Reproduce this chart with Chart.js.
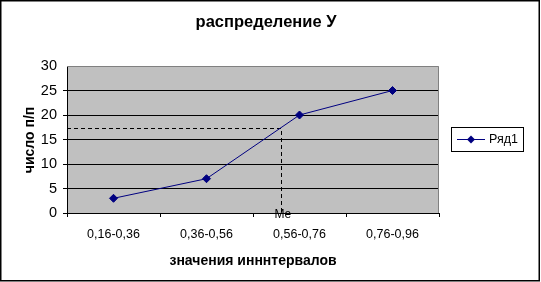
<!DOCTYPE html>
<html><head><meta charset="utf-8">
<script src="https://cdn.jsdelivr.net/npm/chart.js@4"></script>
<style>html,body{margin:0;padding:0;background:#fff;}canvas{display:block;}</style>
</head><body>
<canvas id="c" width="541" height="282"></canvas>
<script>
const categories = ['0,16-0,36', '0,36-0,56', '0,56-0,76', '0,76-0,96'];
const seriesName = 'Ряд1';
const values = [3, 7, 20, 25];
const yTicks = [0, 5, 10, 15, 20, 25, 30];
const medianCat = [1.8];
const medianVal = [17.3];
const medianLabel = 'Me';
const titleText = 'распределение У';
const xTitle = 'значения инннтервалов';
const yTitle = 'число п/п';

const FONT = '"Liberation Sans", Arial, sans-serif';
const NAVY = '#000080';

const decor = {
  id: 'decor',
  beforeDraw(chart) {
    const ctx = chart.ctx, a = chart.chartArea;
    ctx.save();
    ctx.fillStyle = '#fff';
    ctx.fillRect(0, 0, chart.width, chart.height);
    ctx.fillStyle = '#C0C0C0';
    ctx.fillRect(a.left, a.top, a.right - a.left, a.bottom - a.top);
    ctx.restore();
  },
  beforeDatasetsDraw(chart) {
    const ctx = chart.ctx, a = chart.chartArea;
    const xs = chart.scales.x, ys = chart.scales.y;
    ctx.save();
    ctx.strokeStyle = '#808080';
    ctx.lineWidth = 1;
    ctx.beginPath();
    ctx.moveTo(a.left, a.top + 0.5);
    ctx.lineTo(a.right - 0.5, a.top + 0.5);
    ctx.lineTo(a.right - 0.5, a.bottom);
    ctx.stroke();
    const mx = Math.round(xs.getPixelForValue(medianCat[0])) + 0.5;
    const my = Math.round(ys.getPixelForValue(medianVal[0])) + 0.5;
    ctx.strokeStyle = '#000';
    ctx.setLineDash([4, 3]);
    ctx.beginPath();
    ctx.moveTo(a.left, my);
    ctx.lineTo(mx, my);
    ctx.lineTo(mx, a.bottom);
    ctx.stroke();
    ctx.restore();
  },
  afterDraw(chart) {
    const ctx = chart.ctx, a = chart.chartArea;
    const xs = chart.scales.x;
    ctx.save();
    ctx.fillStyle = '#000';
    ctx.font = 'bold 16.5px ' + FONT;
    ctx.textAlign = 'center';
    ctx.textBaseline = 'alphabetic';
    ctx.fillText(titleText, 266, 27);
    ctx.font = 'bold 14px ' + FONT;
    ctx.fillText(xTitle, (a.left + a.right) / 2, 265);
    ctx.save();
    ctx.translate(34, 140);
    ctx.rotate(-Math.PI / 2);
    ctx.fillText(yTitle, 0, 0);
    ctx.restore();
    ctx.font = '12px ' + FONT;
    ctx.textBaseline = 'top';
    ctx.fillText(medianLabel, xs.getPixelForValue(medianCat[0]) + 2, 209);
    ctx.strokeStyle = '#000';
    ctx.lineWidth = 1;
    ctx.strokeRect(451.5, 127.5, 72, 24);
    ctx.strokeStyle = NAVY;
    ctx.beginPath();
    ctx.moveTo(457, 139.5);
    ctx.lineTo(485, 139.5);
    ctx.stroke();
    ctx.fillStyle = NAVY;
    ctx.beginPath();
    ctx.moveTo(471, 135.5); ctx.lineTo(475, 139.5); ctx.lineTo(471, 143.5); ctx.lineTo(467, 139.5);
    ctx.closePath(); ctx.fill();
    ctx.fillStyle = '#000';
    ctx.font = '12.5px ' + FONT;
    ctx.textAlign = 'left';
    ctx.textBaseline = 'middle';
    ctx.fillText(chart.data.datasets[0].label, 489, 140);
    ctx.strokeStyle = '#000';
    ctx.lineWidth = 1.5;
    ctx.strokeRect(0.75, 0.75, 538.5, 280);
    ctx.restore();
  }
};

new Chart(document.getElementById('c'), {
  type: 'line',
  data: {
    labels: categories,
    datasets: [{
      label: seriesName,
      data: values,
      borderColor: NAVY,
      backgroundColor: NAVY,
      borderWidth: 1,
      pointStyle: 'rectRot',
      pointRadius: 4,
      pointHoverRadius: 4,
      tension: 0
    }]
  },
  options: {
    responsive: false,
    animation: false,
    devicePixelRatio: 1,
    layout: { padding: { top: 66, right: 102, bottom: 0, left: 0 } },
    plugins: { legend: { display: false }, title: { display: false }, tooltip: { enabled: false } },
    scales: {
      x: {
        type: 'category',
        offset: true,
        afterFit(s) { s.height = 69; },
        grid: { offset: true, drawOnChartArea: false, drawTicks: true, tickLength: 4, color: '#000' },
        border: { color: '#000', width: 1 },
        ticks: { color: '#000', font: { family: FONT, size: 12.5 }, padding: 10, maxRotation: 0, autoSkip: false }
      },
      y: {
        min: 0, max: 30,
        afterFit(s) { s.width = 67; },
        afterBuildTicks(s) { s.ticks = yTicks.map(v => ({ value: v })); },
        grid: {
          drawTicks: true, tickLength: 4,
          color: c => (c.tick && c.tick.value === 30) ? 'rgba(0,0,0,0)' : '#000'
        },
        border: { color: '#000', width: 1 },
        ticks: { color: '#000', font: { family: FONT, size: 14.5 }, padding: 6, stepSize: 5 }
      }
    }
  },
  plugins: [decor]
});
</script>
</body></html>
